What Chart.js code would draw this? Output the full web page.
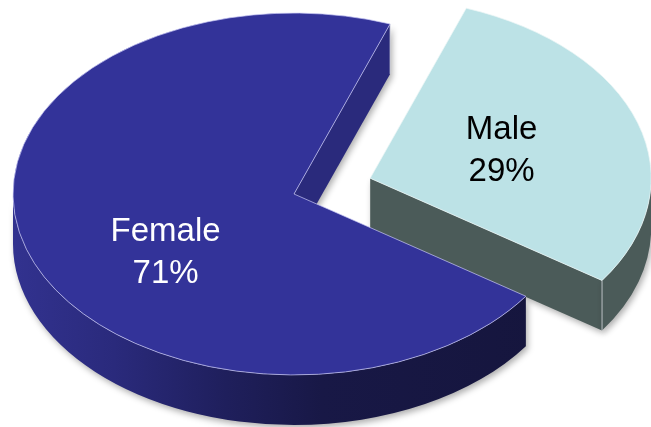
<!DOCTYPE html>
<html>
<head>
<meta charset="utf-8">
<style>
  html, body { margin: 0; padding: 0; background: #ffffff; }
  canvas { display: block; }
</style>
<script src="https://cdn.jsdelivr.net/npm/chart.js@4/dist/chart.umd.min.js"></script>
</head>
<body>
<canvas id="chart" width="651" height="427"></canvas>
<script>
// Survey respondents by gender
const categories = ['Male', 'Female'];
const shares = [29, 71];

// Look of each slice
const topColors = ['#bce2e6', '#333399'];
const cutColors = ['#4b5b59', '#2a2a7c'];
const edgeColors = ['rgba(235,245,246,0.9)', 'rgba(200,200,245,0.85)'];
const labelColors = ['#000000', '#ffffff'];
const explodeBy = [80, 0];           // pull-out distance along the slice's middle
const labelShift = [[3, -4], [0, 29]];

const TILT = 0.644;                 // vertical squash of the pie disc
const DEPTH = 50;                   // thickness of the disc
const START_DEG = 20;               // first slice starts 20° past 12 o'clock
const LABEL_FONT = '33px "Liberation Sans", Arial, sans-serif';

function sliceGeom(arc, i) {
  const mid = (arc.startAngle + arc.endAngle) / 2;
  const e = explodeBy[i];
  return {
    mid,
    ox: Math.cos(mid) * e,
    oy: Math.sin(mid) * e,
    cx: arc.x + Math.cos(mid) * e,
    cy: arc.y + Math.sin(mid) * e * TILT,
    rx: arc.outerRadius,
    ry: arc.outerRadius * TILT
  };
}

// parts of [s, e] that lie on the near (lower) half of the disc
function frontRanges(s, e) {
  const out = [];
  for (let k = -2; k <= 2; k++) {
    const lo = Math.max(s, k * 2 * Math.PI);
    const hi = Math.min(e, k * 2 * Math.PI + Math.PI);
    if (hi > lo) out.push([lo, hi]);
  }
  return out;
}

function outerWallFill(ctx, g, i) {
  if (i === 1) {
    const grad = ctx.createLinearGradient(g.cx - g.rx, 0, g.cx + g.rx, 0);
    grad.addColorStop(0.0, '#32328f');
    grad.addColorStop(0.18, '#2a2a7c');
    grad.addColorStop(0.38, '#1f1f5c');
    grad.addColorStop(0.55, '#181846');
    grad.addColorStop(1.0, '#15153c');
    return grad;
  }
  return cutColors[i];
}

function drawSides(ctx, arc, i) {
  const g = sliceGeom(arc, i);
  const s = arc.startAngle, e = arc.endAngle;
  ctx.save();
  ctx.shadowColor = 'rgba(0,0,0,0.32)';
  ctx.shadowBlur = 6;
  ctx.shadowOffsetX = 2;
  ctx.shadowOffsetY = 3;

  const edges = [];
  const face = (theta) => {
    const px = g.cx + g.rx * Math.cos(theta);
    const py = g.cy + g.ry * Math.sin(theta);
    ctx.beginPath();
    ctx.moveTo(g.cx, g.cy);
    ctx.lineTo(px, py);
    ctx.lineTo(px, py + DEPTH);
    ctx.lineTo(g.cx, g.cy + DEPTH);
    ctx.closePath();
    ctx.fillStyle = cutColors[i];
    ctx.fill();
    edges.push([px, py]);
  };
  // cut faces turned toward the viewer
  if (Math.cos(e) > 0) face(e);
  if (Math.cos(s) < 0) face(s);

  // rim
  for (const [a1, a2] of frontRanges(s, e)) {
    ctx.beginPath();
    ctx.ellipse(g.cx, g.cy, g.rx, g.ry, 0, a1, a2);
    ctx.ellipse(g.cx, g.cy + DEPTH, g.rx, g.ry, 0, a2, a1, true);
    ctx.closePath();
    ctx.fillStyle = outerWallFill(ctx, g, i);
    ctx.fill();
  }
  ctx.restore();

  // light vertical corner edges
  ctx.save();
  ctx.strokeStyle = 'rgba(225,228,232,0.75)';
  ctx.lineWidth = 1;
  for (const [px, py] of edges) {
    ctx.beginPath();
    ctx.moveTo(px, py);
    ctx.lineTo(px, py + DEPTH);
    ctx.stroke();
  }
  ctx.restore();
}

function drawTop(ctx, arc, i) {
  const g = sliceGeom(arc, i);
  ctx.save();
  ctx.translate(0, arc.y);
  ctx.scale(1, TILT);
  ctx.translate(g.ox, -arc.y + g.oy);
  arc.draw(ctx);
  ctx.restore();
}

const pie3d = {
  id: 'pie3d',
  beforeDatasetsDraw(chart) {
    const ctx = chart.ctx;
    const arcs = chart.getDatasetMeta(0).data;
    // slices further back are painted first
    const order = arcs.map((a, i) => i)
      .sort((a, b) => sliceGeom(arcs[a], a).cy - sliceGeom(arcs[b], b).cy);
    for (const i of order) {
      drawSides(ctx, arcs[i], i);
      drawTop(ctx, arcs[i], i);
    }
    return false;
  },
  afterDraw(chart) {
    const ctx = chart.ctx;
    const arcs = chart.getDatasetMeta(0).data;
    const values = chart.data.datasets[0].data;
    const total = values.reduce((a, b) => a + b, 0);
    ctx.save();
    ctx.font = LABEL_FONT;
    ctx.textAlign = 'center';
    ctx.textBaseline = 'alphabetic';
    arcs.forEach((arc, i) => {
      const g = sliceGeom(arc, i);
      const f = 0.48;
      const x = g.cx + Math.cos(g.mid) * g.rx * f + labelShift[i][0];
      const y = g.cy + Math.sin(g.mid) * g.ry * f + labelShift[i][1];
      const pct = Math.round(values[i] / total * 100) + '%';
      ctx.fillStyle = labelColors[i];
      ctx.fillText(chart.data.labels[i], x, y - 21 + 12);
      ctx.fillText(pct, x, y + 21 + 12);
    });
    ctx.restore();
  }
};

new Chart(document.getElementById('chart'), {
  type: 'pie',
  data: {
    labels: categories,
    datasets: [{
      data: shares,
      backgroundColor: topColors,
      borderColor: edgeColors,
      borderWidth: 1,
      radius: 281
    }]
  },
  options: {
    responsive: false,
    animation: false,
    devicePixelRatio: 1,
    rotation: START_DEG,
    layout: { padding: { left: 0, top: 0, right: 63, bottom: 39 } },
    events: [],
    plugins: {
      legend: { display: false },
      tooltip: { enabled: false }
    }
  },
  plugins: [pie3d]
});
</script>
</body>
</html>
